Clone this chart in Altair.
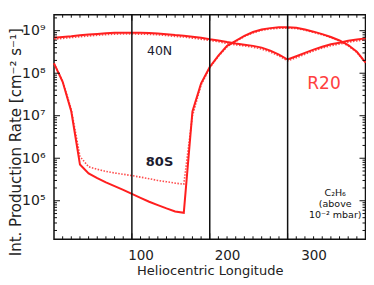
import altair as alt
import pandas as pd

# ---- data ----
longitude = list(range(0, 361, 10))

n40_solid = [6.8e8, 7.1e8, 7.4e8, 7.8e8, 8.1e8, 8.4e8, 8.7e8, 8.9e8, 9.0e8, 9.0e8,
             8.9e8, 8.8e8, 8.6e8, 8.3e8, 7.9e8, 7.6e8, 7.2e8, 6.8e8, 6.3e8, 5.9e8,
             5.4e8, 5.0e8, 4.7e8, 4.4e8, 4.0e8, 3.4e8, 2.75e8, 2.1e8, 2.5e8, 3.0e8,
             3.6e8, 4.2e8, 4.8e8, 5.2e8, 5.8e8, 6.2e8, 6.6e8]
n40_dotted = [6.3e8, 6.6e8, 6.9e8, 7.25e8, 7.5e8, 7.8e8, 8.1e8, 8.3e8, 8.4e8, 8.4e8,
              8.3e8, 8.2e8, 8.0e8, 7.7e8, 7.35e8, 7.1e8, 6.7e8, 6.3e8, 5.9e8, 5.5e8,
              5.0e8, 4.65e8, 4.4e8, 4.1e8, 3.7e8, 3.15e8, 2.55e8, 1.95e8, 2.3e8, 2.8e8,
              3.35e8, 3.9e8, 4.45e8, 4.85e8, 5.4e8, 5.75e8, 6.1e8]
s80_solid = [1.7e8, 6.3e7, 1.26e7, 7.1e5, 4.4e5, 3.4e5, 2.7e5, 2.2e5, 1.8e5, 1.45e5,
             1.17e5, 9.5e4, 7.9e4, 6.6e4, 5.6e4, 5.2e4, 1.26e7, 5.8e7, 1.4e8, 2.6e8,
             4.4e8, 5.8e8, 7.6e8, 9.3e8, 1.07e9, 1.15e9, 1.2e9, 1.2e9, 1.17e9, 1.07e9,
             9.5e8, 8.3e8, 7.1e8, 5.9e8, 4.6e8, 3.2e8, 1.8e8]
s80_dotted = [1.7e8, 6.5e7, 1.4e7, 1.1e6, 6.3e5, 5.5e5, 4.9e5, 4.5e5, 4.2e5, 3.9e5,
              3.6e5, 3.3e5, 3.0e5, 2.8e5, 2.6e5, 2.45e5, 1.0e7, 5.3e7, 1.35e8, 2.5e8,
              4.2e8, 5.6e8, 7.3e8, 8.9e8, 1.02e9, 1.1e9, 1.14e9, 1.15e9, 1.12e9, 1.03e9,
              9.1e8, 8.0e8, 6.9e8, 5.7e8, 4.4e8, 3.1e8, 1.75e8]

marker_longitudes = [90, 180, 270]

label_text = ["40N", "80S", "R20"]
label_lon = [122, 122, 312]
label_val = [3.3e8, 8.1e5, 5.6e7]

note_text = ["C₂H₆", "(above", "10⁻² mbar)"]
note_lon = [325, 325, 325]
note_val = [1.56e5, 8.6e4, 4.6e4]

x_label_values = [100, 200, 300]
y_label_values = [1e5, 1e6, 1e7, 1e8, 1e9]

# tick positions (IDL-style inward ticks)
x_minor = [l for l in range(10, 360, 10) if l % 90 != 0]
x_major = [90, 180, 270]
y_minor = [k * 10.0 ** n for n in range(4, 10) for k in range(2, 10)
           if 1.24e4 <= k * 10.0 ** n <= 2.38e9]
y_major = [1e5, 1e6, 1e7, 1e8, 1e9]

# ---- build tables ----
rows = []
for name, style, vals in [("40N", "solid", n40_solid), ("40N", "dotted", n40_dotted),
                          ("80S", "solid", s80_solid), ("80S", "dotted", s80_dotted)]:
    for L, v in zip(longitude, vals):
        rows.append({"L": L, "v": v, "series": name, "style": style})
df = pd.DataFrame(rows)

W, H = 311.5, 224.6
XDOM = [0, 360]
YDOM = [1.24e4, 2.38e9]
RED = "#ff1f1f"
FONT = "DejaVu Sans"
INK = "#222222"

xs = alt.Scale(domain=XDOM, nice=False, zero=False)
ys = alt.Scale(type="log", domain=YDOM, nice=False)

x_axis = alt.Axis(values=x_label_values, ticks=False, domain=False, grid=False,
                  labelPadding=9, labelFontSize=13.5, labelFont=FONT, labelColor=INK,
                  title="Heliocentric Longitude", titleFont=FONT, titleFontSize=13,
                  titleFontWeight="normal", titleColor=INK, titleY=35,
                  titleBaseline="alphabetic")
y_axis = alt.Axis(values=y_label_values, ticks=False, domain=False, grid=False,
                  labelPadding=9, labelFontSize=14, labelFont=FONT, labelColor=INK,
                  labelExpr="'10' + ['⁰','¹','²','³','⁴','⁵','⁶','⁷','⁸','⁹'][round(log(datum.value)/LN10)]",
                  title="Int. Production Rate [cm⁻² s⁻¹]", titleFont=FONT, titleFontSize=15,
                  titleFontWeight="normal", titleColor=INK, titleX=-39, titleY=127,
                  titleBaseline="middle", titleAngle=270)

X = alt.X("L:Q", scale=xs, axis=x_axis)
Y = alt.Y("v:Q", scale=ys, axis=y_axis)

base = alt.Chart(df)
solid = base.transform_filter(alt.datum.style == "solid").mark_line(
    color=RED, strokeWidth=2).encode(x=X, y=Y, detail="series:N")
dotted = base.transform_filter(alt.datum.style == "dotted").mark_line(
    color=RED, strokeWidth=1.6, strokeDash=[1.5, 1.5], opacity=0.8).encode(
    x=X, y=Y, detail="series:N")

vlines = alt.Chart(pd.DataFrame({"L": marker_longitudes})).mark_rule(
    color="#111111", strokeWidth=1.5).encode(x=X)

def xticks(vals, length):
    b = alt.Chart(pd.DataFrame({"L": vals})).mark_rule(color="#111111", strokeWidth=1)
    return [b.encode(x=X, y=alt.value(H), y2=alt.value(H - length)),
            b.encode(x=X, y=alt.value(0), y2=alt.value(length))]

def yticks(vals, length):
    b = alt.Chart(pd.DataFrame({"v": vals})).mark_rule(color="#111111", strokeWidth=1)
    return [b.encode(y=Y, x=alt.value(0), x2=alt.value(length)),
            b.encode(y=Y, x=alt.value(W), x2=alt.value(W - length))]

ticks = xticks(x_minor, 3) + xticks(x_major, 6) + yticks(y_minor, 3) + yticks(y_major, 6)

lab = pd.DataFrame({"L": label_lon, "v": label_val, "t": label_text})
t40 = alt.Chart(lab.iloc[[0]]).mark_text(font=FONT, fontSize=12.5, color="#1c1c30").encode(
    x=X, y=Y, text="t:N")
t80 = alt.Chart(lab.iloc[[1]]).mark_text(font=FONT, fontSize=13, fontWeight="bold",
                                         color="#1c1c30").encode(x=X, y=Y, text="t:N")
tR = alt.Chart(lab.iloc[[2]]).mark_text(font=FONT, fontSize=17, color="#ff4040").encode(
    x=X, y=Y, text="t:N")
note = alt.Chart(pd.DataFrame({"L": note_lon, "v": note_val, "t": note_text})).mark_text(
    font=FONT, fontSize=9.5, color="#111111").encode(x=X, y=Y, text="t:N")

chart = alt.layer(solid, dotted, vlines, *ticks, t40, t80, tR, note).properties(
    width=W, height=H,
    autosize=alt.AutoSizeParams(type="none"),
    padding={"left": 46, "top": 6.7, "right": 0.5, "bottom": 38.2},
    background="white",
).configure_view(stroke="#111111", strokeWidth=1.5)

chart.save("out.html", embed_options={"renderer": "svg", "actions": False})
